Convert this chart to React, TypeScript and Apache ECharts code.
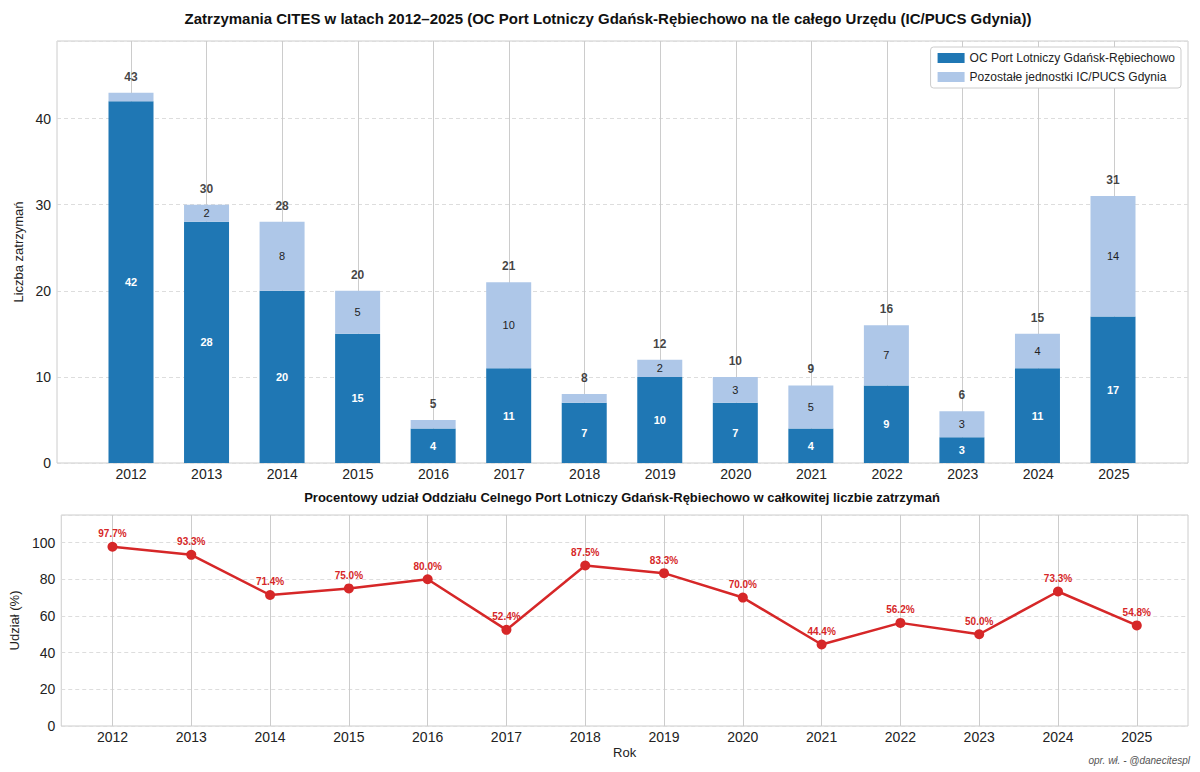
import React, { useEffect, useRef } from 'react';
import * as echarts from 'echarts';

const years = [2012, 2013, 2014, 2015, 2016, 2017, 2018, 2019, 2020, 2021, 2022, 2023, 2024, 2025];
const yearLabels = years.map(String);
const ocValues = [42, 28, 20, 15, 4, 11, 7, 10, 7, 4, 9, 3, 11, 17];
const otherValues = [1, 2, 8, 5, 1, 10, 1, 2, 3, 5, 7, 3, 4, 14];
const totalValues = [43, 30, 28, 20, 5, 21, 8, 12, 10, 9, 16, 6, 15, 31];
const sharePercent = [97.7, 93.3, 71.4, 75.0, 80.0, 52.4, 87.5, 83.3, 70.0, 44.4, 56.2, 50.0, 73.3, 54.8];

const SERIES_OC = 'OC Port Lotniczy Gdańsk-Rębiechowo';
const SERIES_OTHER = 'Pozostałe jednostki IC/PUCS Gdynia';
const TITLE = 'Zatrzymania CITES w latach 2012–2025 (OC Port Lotniczy Gdańsk-Rębiechowo na tle całego Urzędu (IC/PUCS Gdynia))';
const SUBTITLE = 'Procentowy udział Oddziału Celnego Port Lotniczy Gdańsk-Rębiechowo w całkowitej liczbie zatrzymań';
const FOOTER = 'opr. wł. - @danecitespl';

const FONT = '"Liberation Sans", Arial, sans-serif';

export default function App() {
  const ref = useRef<HTMLDivElement>(null);

  useEffect(() => {
    document.body.style.margin = '0';
    const chart = echarts.init(ref.current as HTMLDivElement, null, { renderer: 'svg' });

    const xAxisValue = (min: number, max: number, gridIndex: number) => ({
      type: 'value',
      gridIndex,
      min,
      max,
      axisLine: { show: false },
      axisTick: { show: false, customValues: years },
      axisLabel: {
        customValues: years,
        formatter: (v: number) => String(Math.round(v)),
        fontSize: 14,
        color: '#222',
        fontFamily: FONT,
        margin: 4,
      },
      splitLine: { show: true, lineStyle: { color: '#cccccc', width: 1, type: 'solid' } },
    });

    const yAxisValue = (gridIndex: number, max: number, interval: number, name: string, nameGap: number) => ({
      type: 'value',
      gridIndex,
      min: 0,
      max,
      interval,
      name,
      nameLocation: 'middle',
      nameGap,
      nameTextStyle: { fontSize: 13, color: '#222', fontFamily: FONT },
      axisLine: { show: false },
      axisTick: { show: false },
      axisLabel: { fontSize: 14, color: '#222', fontFamily: FONT, margin: 6, showMaxLabel: false },
      splitLine: { show: true, lineStyle: { color: '#dddddd', width: 1, type: [4, 3] } },
    });

    const TOP_MAX = 49;

    chart.setOption({
      animation: false,
      backgroundColor: '#ffffff',
      textStyle: { fontFamily: FONT },
      grid: [
        // frame of the upper chart
        { left: 57, top: 41, width: 1131, height: 422, show: true, borderColor: '#cccccc', borderWidth: 1, backgroundColor: 'transparent' },
        // lower chart
        { left: 57, top: 515, width: 1131, height: 211, show: true, borderColor: '#cccccc', borderWidth: 1, backgroundColor: 'transparent' },
        // bars of the upper chart (category centres from first to last year)
        { left: 131, top: 41, width: 982, height: 422, show: false },
      ],
      legend: {
        data: [SERIES_OC, SERIES_OTHER],
        orient: 'vertical',
        right: 19,
        top: 47,
        backgroundColor: '#ffffff',
        borderColor: '#cccccc',
        borderWidth: 1,
        borderRadius: 3,
        padding: [5, 6, 5, 7],
        itemGap: 7,
        itemWidth: 27,
        itemHeight: 10,
        icon: 'rect',
        textStyle: { fontSize: 12, color: '#222', fontFamily: FONT },
      },
      xAxis: [
        xAxisValue(2011.02, 2025.98, 0),
        {
          ...xAxisValue(2011.35, 2025.65, 1),
          name: 'Rok',
          nameLocation: 'middle',
          nameGap: 20,
          nameTextStyle: { fontSize: 13, color: '#222', fontFamily: FONT },
        },
        {
          type: 'category',
          gridIndex: 2,
          data: yearLabels,
          boundaryGap: false,
          axisLine: { show: false },
          axisTick: { show: false },
          axisLabel: { show: false },
          splitLine: { show: false },
        },
      ],
      yAxis: [
        yAxisValue(0, TOP_MAX, 10, 'Liczba zatrzymań', 24),
        yAxisValue(1, 115, 20, 'Udział (%)', 32),
        {
          type: 'value',
          gridIndex: 2,
          min: 0,
          max: TOP_MAX,
          show: false,
          splitLine: { show: false },
        },
      ],
      series: [
        {
          type: 'bar',
          name: SERIES_OC,
          xAxisIndex: 2,
          yAxisIndex: 2,
          stack: 'total',
          barWidth: 45,
          clip: false,
          itemStyle: { color: '#1f77b4' },
          data: ocValues,
          label: {
            show: true,
            position: 'inside',
            color: '#ffffff',
            fontWeight: 'bold',
            fontSize: 11,
            fontFamily: FONT,
          },
        },
        {
          type: 'bar',
          name: SERIES_OTHER,
          xAxisIndex: 2,
          yAxisIndex: 2,
          stack: 'total',
          barWidth: 45,
          clip: false,
          itemStyle: { color: '#aec7e8' },
          data: otherValues.map((v) => ({ value: v, label: { show: v > 1 } })),
          label: {
            show: true,
            position: 'inside',
            color: '#222',
            fontSize: 11,
            fontFamily: FONT,
          },
        },
        {
          type: 'scatter',
          name: 'total',
          xAxisIndex: 2,
          yAxisIndex: 2,
          symbolSize: 0,
          silent: true,
          clip: false,
          data: totalValues,
          label: {
            show: true,
            position: 'top',
            distance: 10,
            color: '#111',
            fontWeight: 'bold',
            fontSize: 12,
            fontFamily: FONT,
          },
        },
        {
          type: 'line',
          name: 'share',
          xAxisIndex: 1,
          yAxisIndex: 1,
          data: years.map((y, i) => [y, sharePercent[i]]),
          lineStyle: { color: '#d62728', width: 2.5 },
          itemStyle: { color: '#d62728' },
          symbol: 'circle',
          symbolSize: 10,
          label: {
            show: true,
            position: 'top',
            distance: 3,
            color: '#d62728',
            fontWeight: 'bold',
            fontSize: 10,
            fontFamily: FONT,
            formatter: (p: any) => p.value[1].toFixed(1) + '%',
          },
        },
      ],
      graphic: [
        {
          type: 'text',
          x: 608,
          y: 18,
          style: { text: TITLE, fontSize: 15, fontWeight: 'bold', fontFamily: FONT, fill: '#111', align: 'center', verticalAlign: 'middle' },
        },
        {
          type: 'text',
          x: 622,
          y: 497,
          style: { text: SUBTITLE, fontSize: 13, fontWeight: 'bold', fontFamily: FONT, fill: '#111', align: 'center', verticalAlign: 'middle' },
        },
        {
          type: 'text',
          x: 1190,
          y: 760,
          style: { text: FOOTER, fontSize: 10, fontStyle: 'italic', fontFamily: FONT, fill: '#555', align: 'right', verticalAlign: 'middle' },
        },
      ],
    });

    return () => chart.dispose();
  }, []);

  return <div ref={ref} style={{ width: 1200, height: 772 }} />;
}
